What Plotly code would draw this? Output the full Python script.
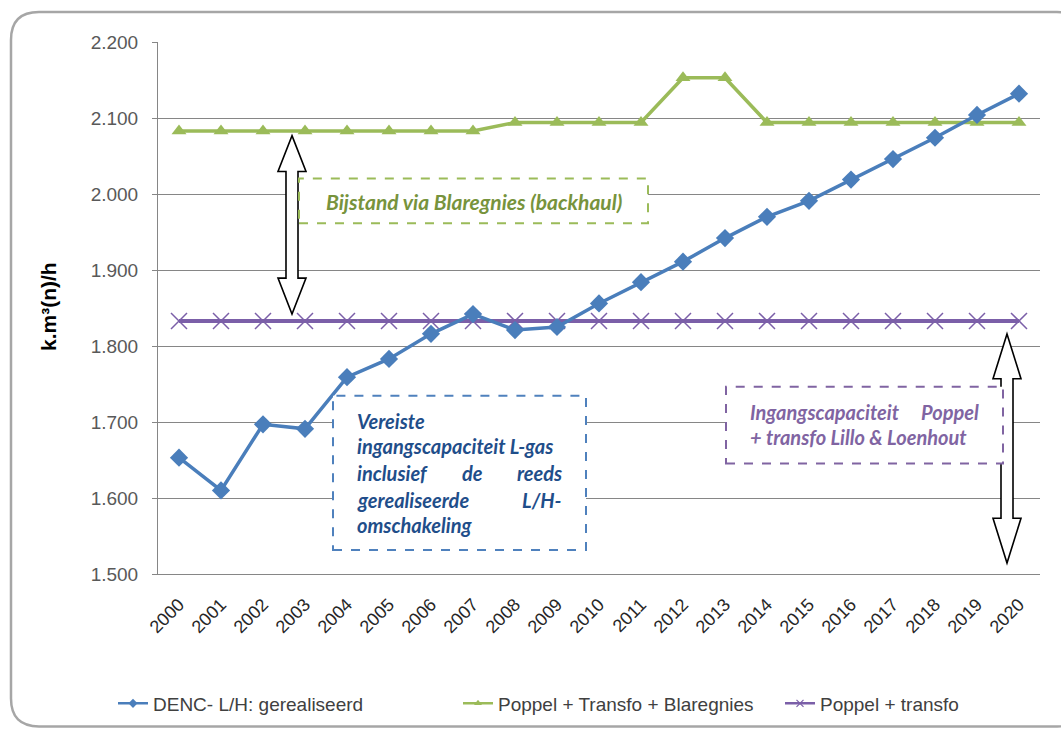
import plotly.graph_objects as go

# Categories and series (k.m³(n)/h)
years = [str(y) for y in range(2000, 2021)]
denc_realised = [1653, 1610, 1697, 1691, 1759, 1783, 1816, 1842, 1821, 1825, 1856,
                 1884, 1911, 1942, 1970, 1991, 2019, 2046, 2074, 2104, 2132]
poppel_transfo_blaregnies = [2083, 2083, 2083, 2083, 2083, 2083, 2083, 2083, 2094, 2094, 2094,
                             2094, 2153, 2153, 2094, 2094, 2094, 2094, 2094, 2094, 2094]
poppel_transfo = [1833] * 21

y_ticks = [1500, 1600, 1700, 1800, 1900, 2000, 2100, 2200]

W, H = 1061, 735
ML, MR, MT, MB = 158, 21, 42, 159
PW, PH = W - ML - MR, H - MT - MB

BLUE, GREEN, PURPLE = "#4A7EBB", "#9BBB59", "#7B5FA8"


def px(x):
    return (x - ML) / PW


def py(y):
    return (H - MB - y) / PH


def double_arrow(cx, top, bottom, head_w, shaft_w, head_len):
    pts = [
        (cx, top), (cx + head_w / 2, top + head_len), (cx + shaft_w / 2, top + head_len),
        (cx + shaft_w / 2, bottom - head_len), (cx + head_w / 2, bottom - head_len),
        (cx, bottom), (cx - head_w / 2, bottom - head_len), (cx - shaft_w / 2, bottom - head_len),
        (cx - shaft_w / 2, top + head_len), (cx - head_w / 2, top + head_len),
    ]
    d = "M " + " L ".join(f"{px(a):.5f},{py(b):.5f}" for a, b in pts) + " Z"
    return dict(type="path", xref="paper", yref="paper", path=d,
                line=dict(color="black", width=1.6), fillcolor="white", layer="above")


def rect(x0, y0, x1, y1, color):
    return dict(type="rect", xref="paper", yref="paper",
                x0=px(x0), x1=px(x1), y0=py(y1), y1=py(y0),
                line=dict(color=color, width=2, dash="dash"), fillcolor="white", layer="above")


def frame_path(left, top, right, bottom, r):
    d = (f"M {px(left):.5f},{py(bottom - r):.5f} "
         f"L {px(left):.5f},{py(top + r):.5f} "
         f"Q {px(left):.5f},{py(top):.5f} {px(left + r):.5f},{py(top):.5f} "
         f"L {px(right - r):.5f},{py(top):.5f} "
         f"Q {px(right):.5f},{py(top):.5f} {px(right):.5f},{py(top + r):.5f} "
         f"L {px(right):.5f},{py(bottom - r):.5f} "
         f"Q {px(right):.5f},{py(bottom):.5f} {px(right - r):.5f},{py(bottom):.5f} "
         f"L {px(left + r):.5f},{py(bottom):.5f} "
         f"Q {px(left):.5f},{py(bottom):.5f} {px(left):.5f},{py(bottom - r):.5f} Z")
    return dict(type="path", xref="paper", yref="paper", path=d,
                line=dict(color="#A6A6A6", width=2.5), layer="below")


fig = go.Figure()

# Plotted series (purple underneath, blue on top)
fig.add_trace(go.Scatter(
    x=years, y=poppel_transfo, name="Poppel + transfo", mode="lines+markers",
    line=dict(color=PURPLE, width=4),
    marker=dict(symbol="x-thin-open", size=16, line=dict(color="#C8BCDD", width=1.5)),
    showlegend=False,
))
fig.add_trace(go.Scatter(
    x=years, y=poppel_transfo_blaregnies, name="Poppel + Transfo + Blaregnies", mode="lines+markers",
    line=dict(color=GREEN, width=3.5),
    marker=dict(symbol="triangle-up", size=13, color=GREEN),
    showlegend=False,
))
fig.add_trace(go.Scatter(
    x=years, y=denc_realised, name="DENC- L/H: gerealiseerd", mode="lines+markers",
    line=dict(color=BLUE, width=3.5),
    marker=dict(symbol="diamond", size=14, color=BLUE),
    showlegend=False,
))

# Legend entries with small markers, each in its own legend box
legend_items = [
    ("DENC- L/H: gerealiseerd", BLUE, "diamond", dict(color=BLUE), "legend", 113),
    ("Poppel + Transfo + Blaregnies", GREEN, "triangle-up", dict(color=GREEN), "legend2", 458),
    ("Poppel + transfo", PURPLE, "x-thin-open", dict(line=dict(color="#C8BCDD", width=1.2)), "legend3", 780),
]
legend_layout = {}
for name, col, sym, mk, lg, lx in legend_items:
    fig.add_trace(go.Scatter(
        x=[None], y=[None], name=name, mode="lines+markers",
        line=dict(color=col, width=2.5),
        marker=dict(symbol=sym, size=7, **mk),
        legend=lg,
    ))
    legend_layout[lg] = dict(
        orientation="h", x=px(lx), y=py(706), xanchor="left", yanchor="middle",
        font=dict(family="Liberation Sans", size=19, color="#404040"),
        bgcolor="rgba(0,0,0,0)", borderwidth=0,
    )

shapes = [
    frame_path(11, 12, 1085, 729, 28),
    double_arrow(292, 136, 315, 28, 12, 36),
    double_arrow(1007, 335, 565, 28, 12, 45),
    rect(299, 179, 648, 224, GREEN),
    rect(333, 397, 586, 552, "#4F81BD"),
    rect(726, 388, 1003, 465, "#8064A2"),
]


def note(text, x, y, color, size, anchor="left"):
    return dict(text=f"<b><i>{text}</i></b>", x=px(x), y=py(y), xref="paper", yref="paper",
                xanchor=anchor, yanchor="middle", showarrow=False,
                font=dict(family="Lato", size=size, color=color))


blue_txt = "#1F4E8A"
purple_txt = "#8064A2"
annotations = [
    note("Bijstand via Blaregnies (backhaul)", 474, 202, "#77933C", 21, "center"),
    note("Vereiste", 355, 422, blue_txt, 20),
    note("ingangscapaciteit L-gas", 355, 448, blue_txt, 20),
    note("inclusief", 355, 475, blue_txt, 20),
    note("de", 472, 475, blue_txt, 20, "center"),
    note("reeds", 564, 475, blue_txt, 20, "right"),
    note("gerealiseerde", 355, 502, blue_txt, 20),
    note("L/H-", 564, 502, blue_txt, 20, "right"),
    note("omschakeling", 355, 527, blue_txt, 20),
    note("Ingangscapaciteit", 748, 413, purple_txt, 20),
    note("Poppel", 981, 413, purple_txt, 20, "right"),
    note("+ transfo Lillo &amp; Loenhout", 748, 438, purple_txt, 20),
    dict(text="<b>k.m³(n)/h</b>", x=px(48), y=py(308), xref="paper", yref="paper",
         textangle=-90, showarrow=False, xanchor="center", yanchor="middle",
         font=dict(family="Liberation Sans", size=21, color="black")),
]

fig.update_layout(
    width=W, height=H,
    margin=dict(l=ML, r=MR, t=MT, b=MB),
    paper_bgcolor="white", plot_bgcolor="white",
    separators=",.",
    font=dict(family="Liberation Sans", size=18, color="#404040"),
    showlegend=True,
    shapes=shapes,
    annotations=annotations,
    **legend_layout,
)

fig.update_xaxes(
    type="category", range=[-0.5, 20.5], tickangle=-45,
    showgrid=False, showline=True, linecolor="#868686", linewidth=1,
    ticks="", ticklabelstandoff=12,
    tickfont=dict(family="Liberation Sans", size=18, color="#262626"),
)
fig.update_yaxes(
    range=[1500, 2200], tickvals=y_ticks, tickformat=",d",
    showgrid=True, gridcolor="#868686", gridwidth=1, zeroline=False,
    showline=True, linecolor="#868686", linewidth=1,
    ticks="outside", ticklen=5, tickcolor="#868686", ticklabelstandoff=10,
    tickfont=dict(family="Liberation Sans", size=19, color="#595959"),
)

fig.write_html("out.html")
